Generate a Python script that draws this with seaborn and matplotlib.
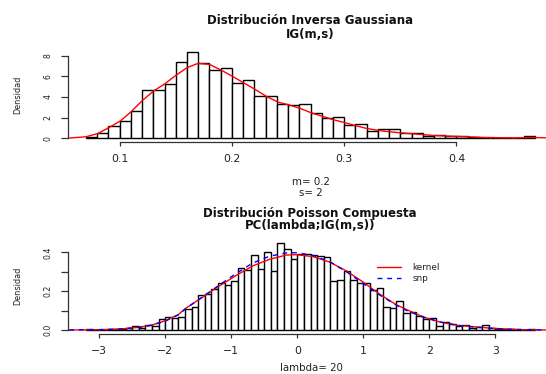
import numpy as np
import pandas as pd
import matplotlib
matplotlib.use("Agg")
import matplotlib.pyplot as plt
import seaborn as sns

# ---------------- data ----------------
# Top: Inverse Gaussian histogram (bins of width 0.01 starting at 0.07)
ig_bin_start = 0.07
ig_bin_width = 0.01
ig_density = [0.12, 0.47, 1.2, 1.68, 2.6, 4.7, 4.68, 5.3, 7.4, 8.4,
              7.28, 6.6, 6.78, 5.4, 5.6, 4.1, 4.1, 3.3, 3.23, 3.3,
              2.42, 1.94, 2.02, 1.28, 1.33, 0.71, 0.88, 0.88, 0.48, 0.48,
              0.19, 0.35, 0.19, 0.16, 0.1, 0.06, 0.0, 0.0, 0.0, 0.19]
# kernel density curve (red)
ig_kern_x = [0.050, 0.0538, 0.070, 0.0806, 0.091, 0.1008, 0.1103, 0.1207, 0.1305,
             0.140, 0.1505, 0.160, 0.1698, 0.180, 0.1906, 0.201, 0.210,
             0.2204, 0.2308, 0.2411, 0.2516, 0.2605, 0.2709, 0.2813, 0.290,
             0.3006, 0.310, 0.320, 0.335, 0.3497, 0.3646, 0.3794, 0.394,
             0.409, 0.424, 0.440, 0.4538, 0.4686, 0.480, 0.500]
ig_kern_y = [0.0, 0.0, 0.13, 0.45, 1.06, 1.68, 2.58, 3.7, 4.6,
             5.26, 6.13, 6.84, 7.26, 7.16, 6.6, 5.97, 5.4,
             4.75, 4.05, 3.5, 3.2, 2.9, 2.45, 2.1, 1.8,
             1.5, 1.22, 0.94, 0.68, 0.52, 0.39, 0.26, 0.19,
             0.13, 0.07, 0.04, 0.03, 0.06, 0.03, 0.0]

# Bottom: compound Poisson histogram (bins of width 0.1 starting at -3.2)
pc_bin_start = -3.2
pc_bin_width = 0.1
pc_density = [0.003, 0.0, 0.002, 0.002, 0.003, 0.005, 0.008, 0.019, 0.009, 0.024,
              0.019, 0.058, 0.068, 0.062, 0.066, 0.108, 0.12, 0.178, 0.187, 0.21,
              0.244, 0.23, 0.25, 0.32, 0.31, 0.385, 0.315, 0.40, 0.305, 0.446,
              0.415, 0.364, 0.39, 0.39, 0.385, 0.38, 0.375, 0.25, 0.26, 0.306,
              0.257, 0.244, 0.244, 0.206, 0.215, 0.117, 0.112, 0.151, 0.089, 0.094,
              0.072, 0.058, 0.06, 0.02, 0.04, 0.03, 0.02, 0.028, 0.01, 0.017,
              0.028, 0.008, 0.005, 0.003, 0.003, 0.002, 0.002, 0.004]
pc_kern_x = [-3.6, -3.49, -3.0, -2.7, -2.4, -2.2, -2.0, -1.8, -1.69, -1.43, -1.18,
             -0.93, -0.675, -0.42, -0.167, -0.015, 0.237, 0.49, 0.745, 0.997,
             1.25, 1.505, 1.657, 1.91, 2.16, 2.42, 2.67, 2.92, 3.18, 3.43, 3.8, 4.0]
pc_kern_y = [0.0, 0.0, 0.002, 0.005, 0.014, 0.026, 0.048, 0.08, 0.112, 0.17, 0.227,
             0.28, 0.33, 0.364, 0.386, 0.388, 0.378, 0.35, 0.304, 0.247,
             0.184, 0.129, 0.105, 0.067, 0.041, 0.024, 0.017, 0.01, 0.005, 0.002, 0.0, 0.0]
pc_snp_x = pc_kern_x
pc_snp_y = [0.0, 0.0, 0.002, 0.005, 0.013, 0.025, 0.046, 0.078, 0.11, 0.172, 0.232,
            0.29, 0.345, 0.38, 0.397, 0.398, 0.384, 0.352, 0.30, 0.24,
            0.18, 0.127, 0.10, 0.066, 0.042, 0.025, 0.016, 0.009, 0.004, 0.002, 0.0, 0.0]

titles_top = ["Distribución Inversa Gaussiana", "IG(m,s)"]
titles_bot = ["Distribución Poisson Compuesta", "PC(lambda;IG(m,s))"]
sub_top = ["m= 0.2", "s= 2"]
sub_bot = "lambda= 20"
ylab = "Densidad"
ig_xticks = [0.1, 0.2, 0.3, 0.4]
ig_yticks = [0, 2, 4, 6, 8]
pc_xticks = [-3, -2, -1, 0, 1, 2, 3]
pc_yticks = [0.0, 0.1, 0.2, 0.3, 0.4]
pc_yticklabels = ["0.0", "", "0.2", "", "0.4"]

# ---------------- figure ----------------
sns.set_theme(style="white")
plt.rcParams["font.family"] = ["DejaVu Sans"]

W, H = 546, 374
fig = plt.figure(figsize=(W / 100, H / 100), dpi=100)
fig.patch.set_facecolor("white")


def fy(py):
    return 1 - py / H


ax1 = fig.add_axes([68 / W, fy(141.6), 485 / W, (141.6 - 48.2) / H])
ax2 = fig.add_axes([68 / W, fy(333.5), 485 / W, (333.5 - 239.9) / H])

# ---- top histogram
ig_edges = [round(ig_bin_start + ig_bin_width * i, 4) for i in range(len(ig_density) + 1)]
ig_centers = [(a + b) / 2 for a, b in zip(ig_edges[:-1], ig_edges[1:])]
df_ig = pd.DataFrame({"x": ig_centers, "d": ig_density})
sns.histplot(data=df_ig, x="x", weights="d", bins=ig_edges, stat="count",
             color="white", edgecolor="black", linewidth=1.0, alpha=1.0, ax=ax1)
sns.lineplot(x=ig_kern_x, y=ig_kern_y, color="#ff0000", lw=1.0, ax=ax1,
             sort=False, estimator=None)
ax1.set_xlim(0.054, 0.486)
ax1.set_ylim(-0.336, 8.736)

# ---- bottom histogram
pc_edges = [round(pc_bin_start + pc_bin_width * i, 4) for i in range(len(pc_density) + 1)]
pc_centers = [(a + b) / 2 for a, b in zip(pc_edges[:-1], pc_edges[1:])]
df_pc = pd.DataFrame({"x": pc_centers, "d": pc_density})
sns.histplot(data=df_pc, x="x", weights="d", bins=pc_edges, stat="count",
             color="white", edgecolor="black", linewidth=1.0, alpha=1.0, ax=ax2)
sns.lineplot(x=pc_kern_x, y=pc_kern_y, color="#ff0000", lw=1.0, ax=ax2,
             sort=False, estimator=None, label="kernel")
sns.lineplot(x=pc_snp_x, y=pc_snp_y, color="#0000ff", lw=1.0, ax=ax2,
             sort=False, estimator=None, label="snp", linestyle=(0, (3.5, 3.5)))
ax2.set_xlim(-3.472, 3.872)
ax2.set_ylim(-0.0178, 0.464)

axis_col = "#333333"
for ax, xt, yt, ytl, xb, yb in [
    (ax1, ig_xticks, ig_yticks, [str(v) for v in ig_yticks], (0.1, 0.4), (0, 8)),
    (ax2, pc_xticks, pc_yticks, pc_yticklabels, (-3, 3), (0.0, 0.4)),
]:
    ax.set_facecolor("white")
    for s in ["top", "right"]:
        ax.spines[s].set_visible(False)
    ax.spines["left"].set_bounds(*yb)
    ax.spines["bottom"].set_bounds(*xb)
    for s in ["left", "bottom"]:
        ax.spines[s].set_color(axis_col)
        ax.spines[s].set_linewidth(0.9)
    ax.set_xticks(xt)
    ax.set_xticklabels([("%g" % v).replace("-", "\u2212") for v in xt])
    ax.set_yticks(yt)
    ax.set_yticklabels(ytl)
    ax.tick_params(axis="x", length=2.9, width=0.9, color=axis_col, pad=6.0,
                   labelsize=7.8, labelcolor="#222222", bottom=True)
    ax.tick_params(axis="y", length=4.8, width=0.9, color=axis_col, pad=6.2,
                   labelsize=5.6, labelcolor="#222222", left=True)
    for lab in ax.get_yticklabels():
        lab.set_rotation(90)
        lab.set_va("center")
        lab.set_ha("right")
    ax.set_xlabel("")
    ax.set_ylabel("")
    ax.grid(False)

# legend
leg = ax2.legend(loc="upper left", bbox_to_anchor=(377 / W, fy(263)),
                 bbox_transform=fig.transFigure, frameon=False, fontsize=6.4,
                 handlelength=2.7, handletextpad=1.3, labelspacing=0.28,
                 borderpad=0, borderaxespad=0)
for t in leg.get_texts():
    t.set_color("#222222")

# titles and sub-labels
tkw = dict(ha="center", va="baseline", fontweight="bold", fontsize=8.5, color="#111111")
fig.text(310 / W, fy(24.4), titles_top[0], **tkw)
fig.text(310 / W, fy(37.7), titles_top[1], **tkw)
fig.text(310 / W, fy(216.5), titles_bot[0], **tkw)
fig.text(310 / W, fy(229.0), titles_bot[1], **tkw)

skw = dict(ha="center", va="baseline", fontsize=7.4, color="#222222")
fig.text(311 / W, fy(184.8), sub_top[0], **skw)
fig.text(311 / W, fy(195.8), sub_top[1], **skw)
fig.text(311 / W, fy(371.3), sub_bot, **skw)

ykw = dict(ha="center", va="center", rotation=90, fontsize=5.9, color="#222222")
fig.text(17.4 / W, fy(94.7), ylab, **ykw)
fig.text(17.4 / W, fy(286.2), ylab, **ykw)

fig.savefig("out.png", dpi=100, facecolor="white")
